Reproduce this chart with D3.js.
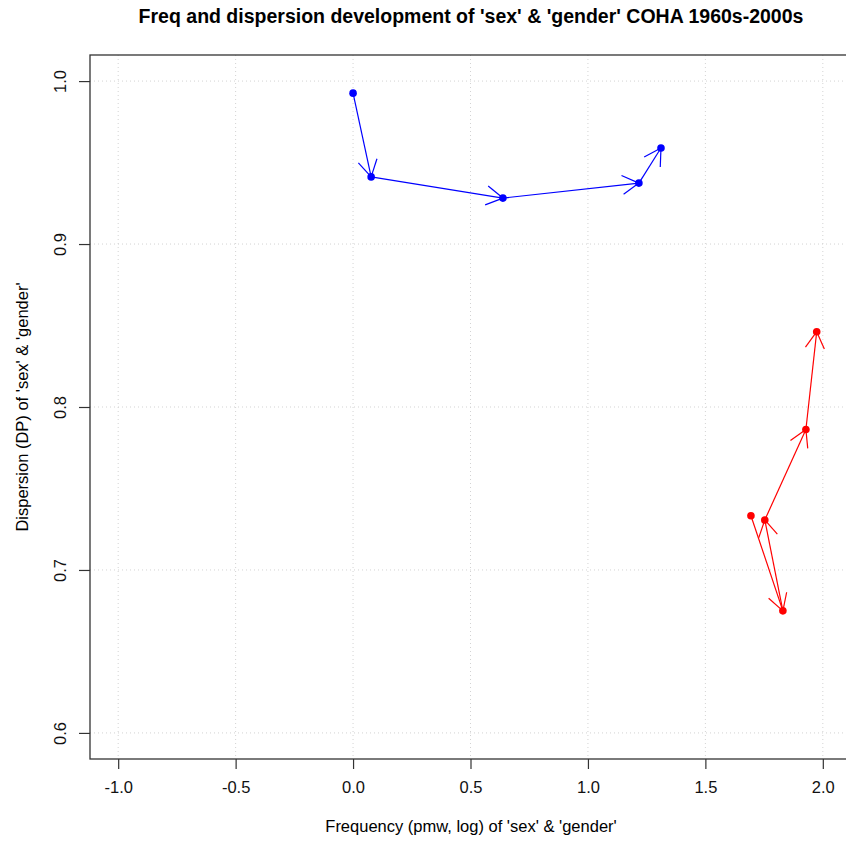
<!DOCTYPE html>
<meta charset="utf-8">
<head>
<script src="https://cdnjs.cloudflare.com/ajax/libs/d3/7.8.5/d3.min.js"></script>
<style>
body { margin: 0; background: #fff; }
text { font-family: "Liberation Sans", Arial, sans-serif; }
</style>
</head>
<body>
<div id="chart"></div>
<script>

// frequency (log pmw) and dispersion, one point per decade 1960s..2000s
var decades = ['1960s', '1970s', '1980s', '1990s', '2000s'];
var sexFreq = [0.000, 0.077, 0.638, 1.217, 1.311];
var sexDP   = [0.9926, 0.9412, 0.9282, 0.9374, 0.9589];
var genderFreq = [1.694, 1.830, 1.753, 1.928, 1.974];
var genderDP   = [0.7333, 0.6749, 0.7307, 0.7862, 0.8462];

var xTicks = [-1.0, -0.5, 0.0, 0.5, 1.0, 1.5, 2.0];
var yTicks = [0.6, 0.7, 0.8, 0.9, 1.0];

var width = 846, height = 841;
var margin = {left: 90, top: 55, bottom: 759, right: 851};

var svg = d3.select('#chart').append('svg')
    .attr('width', width)
    .attr('height', height);

// R style: limits widened 4% on each side
var x = d3.scaleLinear().domain([-1.12, 2.12]).range([margin.left, margin.right]);
var y = d3.scaleLinear().domain([0.584, 1.016]).range([margin.bottom, margin.top]);

// dotted grid
svg.append('g').selectAll('line')
    .data(xTicks).enter().append('line')
    .attr('x1', d => x(d)).attr('x2', d => x(d))
    .attr('y1', margin.top).attr('y2', margin.bottom)
    .style('stroke', '#d3d3d3').style('stroke-dasharray', '1,3');
svg.append('g').selectAll('line')
    .data(yTicks).enter().append('line')
    .attr('y1', d => y(d)).attr('y2', d => y(d))
    .attr('x1', margin.left).attr('x2', margin.right)
    .style('stroke', '#d3d3d3').style('stroke-dasharray', '1,3');

// axes
var xAxis = svg.append('g')
    .attr('transform', 'translate(0,' + margin.bottom + ')')
    .call(d3.axisBottom(x).tickValues(xTicks).tickFormat(d3.format('.1f')).tickSize(10).tickPadding(12));
var yAxis = svg.append('g')
    .attr('transform', 'translate(' + margin.left + ',0)')
    .call(d3.axisLeft(y).tickValues(yTicks).tickFormat(d3.format('.1f')).tickSize(11));
[xAxis, yAxis].forEach(function(a){
  a.select('.domain').remove();
  a.selectAll('line').style('stroke', '#333').style('stroke-width', 1.2);
  a.selectAll('text').style('font-size', '16.5px').style('font-family', '"Liberation Sans", Arial, sans-serif').attr('fill', '#111');
});
xAxis.selectAll('text').text(d => d3.format('.1f')(d).replace('−', '-'));
yAxis.selectAll('text')
    .attr('x', 0).attr('y', 0).attr('dy', null)
    .attr('text-anchor', 'middle')
    .attr('transform', 'translate(-24,0) rotate(-90)');

// box
svg.append('rect')
    .attr('x', margin.left).attr('y', margin.top)
    .attr('width', margin.right - margin.left)
    .attr('height', margin.bottom - margin.top)
    .style('fill', 'none').style('stroke', '#333').style('stroke-width', 1.3);

// arrows between consecutive decades
function drawSeries(fx, fy, col) {
  var pts = fx.map(function(d, i){ return [x(d), y(fy[i])]; });
  var g = svg.append('g');
  for (var i = 0; i < pts.length - 1; i++) {
    var a = pts[i], b = pts[i+1];
    g.append('line')
      .attr('x1', a[0]).attr('y1', a[1]).attr('x2', b[0]).attr('y2', b[1])
      .style('stroke', col).style('stroke-width', 1.2);
    var ang = Math.atan2(b[1] - a[1], b[0] - a[0]);
    var len = 19;
    [-Math.PI/6, Math.PI/6].forEach(function(o){
      g.append('line')
        .attr('x1', b[0]).attr('y1', b[1])
        .attr('x2', b[0] - len * Math.cos(ang + o))
        .attr('y2', b[1] - len * Math.sin(ang + o))
        .style('stroke', col).style('stroke-width', 1.2);
    });
  }
  g.selectAll('circle')
    .data(pts).enter().append('circle')
    .attr('cx', d => d[0]).attr('cy', d => d[1]).attr('r', 3.8)
    .style('fill', col);
}
drawSeries(sexFreq, sexDP, '#0000ff');
drawSeries(genderFreq, genderDP, '#ff0000');

// titles
svg.append('text')
    .attr('x', 471).attr('y', 23)
    .attr('text-anchor', 'middle')
    .style('font-size', '19.5px').style('font-weight', 'bold')
    .text("Freq and dispersion development of 'sex' & 'gender' COHA 1960s-2000s");
svg.append('text')
    .attr('x', 471).attr('y', 832)
    .attr('text-anchor', 'middle')
    .style('font-size', '16.5px')
    .text("Frequency (pmw, log) of 'sex' & 'gender'");
svg.append('text')
    .attr('transform', 'translate(28,407) rotate(-90)')
    .attr('text-anchor', 'middle')
    .style('font-size', '16.5px')
    .text("Dispersion (DP) of 'sex' & 'gender'");

</script>
</body>
